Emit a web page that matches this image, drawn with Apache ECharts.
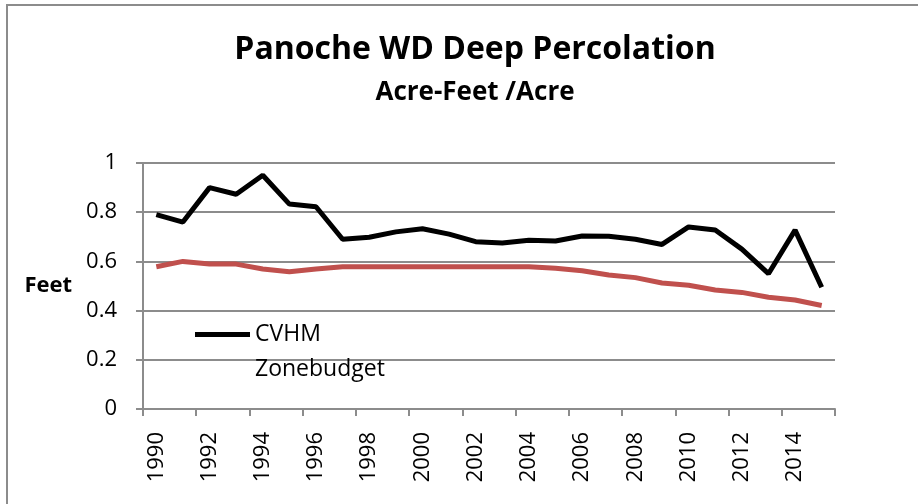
<!DOCTYPE html>
<html>
<head>
<meta charset="utf-8">
<script src="https://cdn.jsdelivr.net/npm/echarts@6/dist/echarts.min.js"></script>
<style>
html,body{margin:0;padding:0;background:#fff;}
#chart{width:918px;height:504px;}
</style>
</head>
<body>
<div id="chart"></div>
<script>
const years = ['1990','1991','1992','1993','1994','1995','1996','1997','1998','1999','2000','2001','2002','2003','2004','2005','2006','2007','2008','2009','2010','2011','2012','2013','2014','2015'];
const cvhm = [0.79,0.76,0.90,0.873,0.95,0.833,0.822,0.69,0.698,0.72,0.733,0.711,0.68,0.675,0.686,0.683,0.703,0.702,0.69,0.669,0.74,0.728,0.65,0.55,0.727,0.495];
const zonebudget = [0.578,0.60,0.589,0.589,0.569,0.558,0.569,0.578,0.578,0.578,0.578,0.578,0.578,0.578,0.578,0.572,0.562,0.545,0.534,0.512,0.503,0.484,0.474,0.454,0.443,0.421];
const yTicks = [0,0.2,0.4,0.6,0.8,1];

const FONT = 'Open Sans';
const chart = echarts.init(document.getElementById('chart'), null, {renderer:'canvas'});
chart.setOption({
  animation:false,
  backgroundColor:'#ffffff',
  title:[
    {text:'Panoche WD Deep Percolation', left:470, textAlign:'center', top:29,
     textStyle:{fontFamily:FONT, fontWeight:'bold', fontSize:32, color:'#000'}},
    {text:'Acre-Feet /Acre', left:470, textAlign:'center', top:75,
     textStyle:{fontFamily:FONT, fontWeight:'bold', fontSize:26, color:'#000'}}
  ],
  legend:{
    orient:'vertical', left:195, top:323, padding:0,
    icon:'rect', itemWidth:55, itemHeight:5, itemGap:12,
    textStyle:{fontFamily:FONT, fontSize:23, lineHeight:20, color:'#000'},
    data:[
      {name:'CVHM'},
      {name:'Zonebudget', itemStyle:{opacity:0}}
    ]
  },
  grid:{left:143, right:83, top:163, bottom:95, containLabel:false},
  xAxis:{
    type:'category', data:years, boundaryGap:true,
    axisLine:{lineStyle:{color:'#8c8c8c', width:2}},
    axisTick:{show:true, interval:1, length:7, lineStyle:{color:'#8c8c8c', width:2}},
    axisLabel:{interval:1, rotate:90, margin:23, fontFamily:FONT, fontSize:22, color:'#000'},
    splitLine:{show:false}
  },
  yAxis:{
    type:'value', min:0, max:1, interval:0.2,
    name:'Feet', nameLocation:'middle', nameRotate:0, nameGap:71,
    nameTextStyle:{fontFamily:FONT, fontWeight:'bold', fontSize:22, color:'#000', align:'right', verticalAlign:'middle'},
    axisLine:{show:true, lineStyle:{color:'#8c8c8c', width:2}},
    axisTick:{show:true, length:7, lineStyle:{color:'#8c8c8c', width:2}},
    axisLabel:{margin:26, fontFamily:FONT, fontSize:22, color:'#000',
      formatter:function(v){ return yTicks.indexOf(Math.round(v*10)/10) >= 0 ? String(Math.round(v*10)/10) : ''; }},
    splitLine:{show:true, lineStyle:{color:'#8c8c8c', width:2}}
  },
  series:[
    {name:'CVHM', type:'line', data:cvhm, symbol:'none', showSymbol:false,
     lineStyle:{color:'#000000', width:5}, itemStyle:{color:'#000000'}, z:3},
    {name:'Zonebudget', type:'line', data:zonebudget, symbol:'none', showSymbol:false,
     lineStyle:{color:'#c0504d', width:5}, itemStyle:{color:'#c0504d'}, z:2}
  ],
  graphic:[
    {type:'polyline', shape:{points:[[7,504],[7,5],[918,5]]}, style:{stroke:'#8c8c8c', lineWidth:2, fill:null}, silent:true}
  ]
});
</script>
</body>
</html>
